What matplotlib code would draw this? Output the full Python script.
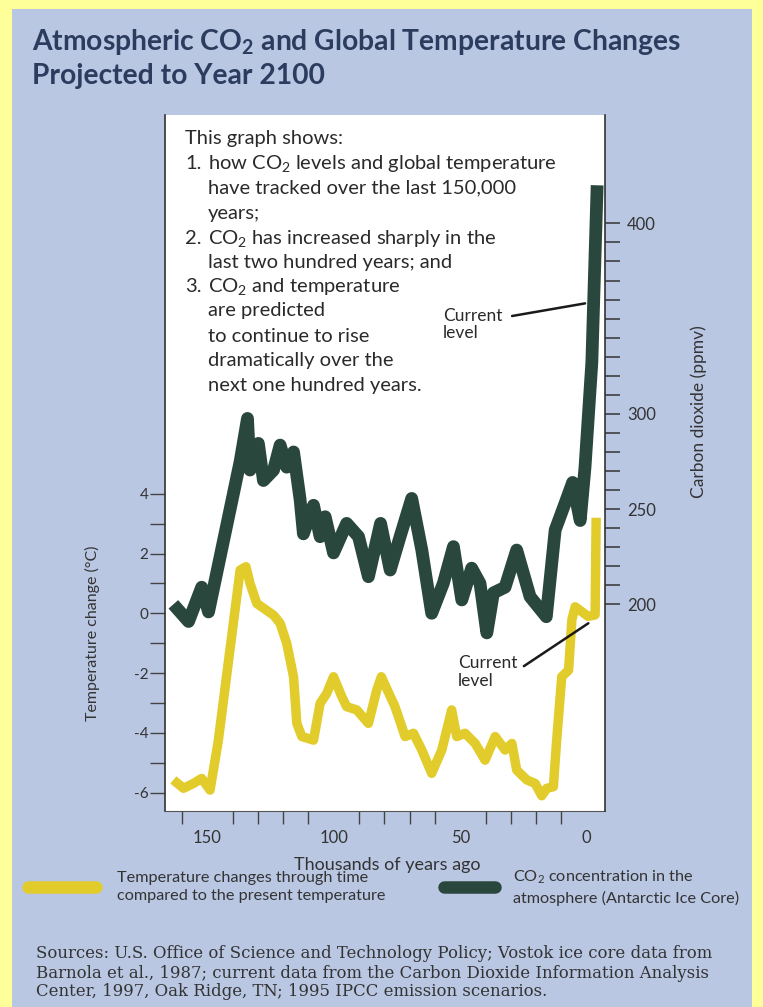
import numpy as np
import matplotlib.pyplot as plt
from matplotlib.patches import Rectangle
from matplotlib.lines import Line2D

# thousands of years ago / temperature change (deg C)
temp_kyr = [163.4, 159.4, 155.5, 152.2, 148.9, 145.6, 137.0, 134.7, 133.1, 130.4,
            123.8, 121.2, 118.6, 115.9, 114.6, 112.6, 108.0, 105.4, 102.8, 100.1,
            96.8, 94.9, 90.9, 86.3, 83.0, 81.2, 75.8, 71.8, 68.5, 65.2,
            61.3, 57.3, 53.4, 51.4, 48.1, 44.1, 40.2, 36.2, 32.3, 29.6,
            27.7, 23.7, 20.4, 17.8, 15.8, 13.2, 11.9, 9.9, 7.2, 5.9,
            4.6, 2.0, -0.5, -3.3, -3.7]
temp_val = [-5.57, -5.85, -5.69, -5.52, -5.91, -4.24, 1.45, 1.56, 1.0, 0.33,
            -0.06, -0.33, -1.0, -2.12, -3.68, -4.12, -4.24, -3.01, -2.68, -2.12,
            -2.79, -3.12, -3.23, -3.68, -2.56, -2.12, -3.12, -4.12, -4.01, -4.57,
            -5.35, -4.57, -3.23, -4.12, -4.01, -4.35, -4.91, -4.12, -4.57, -4.35,
            -5.24, -5.57, -5.69, -6.1, -5.85, -5.80, -4.24, -2.12, -1.90, -0.22,
            0.22, 0.06, -0.1, -0.05, 3.2]

# thousands of years ago / CO2 (ppmv)
co2_kyr = [163.4, 157.4, 152.2, 149.5, 137.0, 134.1, 133.1, 129.8, 127.8, 123.8,
           121.2, 118.6, 115.9, 113.3, 112.0, 108.0, 105.4, 103.4, 100.1, 94.9,
           90.2, 86.3, 81.5, 77.7, 73.8, 69.2, 65.2, 61.3, 56.7, 52.7,
           49.4, 45.5, 42.2, 39.5, 36.9, 32.3, 27.7, 22.4, 16.0, 12.5,
           8.6, 5.6, 2.6, 0.7, -2.0, -4.1]
co2_val = [200, 191, 209, 196, 275, 297.6, 270.5, 284.5, 265, 270.5,
           283.6, 272, 280, 255, 237, 252, 235.5, 246, 227, 242.5,
           235.5, 214.5, 242.5, 218, 235.5, 255.6, 228.5, 195.3, 211, 230.3,
           202.3, 219, 211, 185, 206, 209, 228.5, 204, 193.5, 239,
           253, 264, 244, 272, 327, 420]

x_labels = ['150', '100', '50', '0']
x_label_pos = [150, 100, 50, 0]
x_minor = [160, 140, 130, 120, 110, 90, 80, 70, 60, 50, 40, 30, 20, 10, 0]
t_ticks = list(range(-6, 5))
t_labels = ['-6', '', '-4', '', '-2', '', '0', '', '2', '', '4']
c_ticks = list(range(200, 410, 10))
c_labels = [str(v) if v in (200, 250, 300, 400) else '' for v in c_ticks]

box_lines = ["This graph shows:",
             "how CO$_2$ levels and global temperature",
             "have tracked over the last 150,000",
             "years;",
             "CO$_2$ has increased sharply in the",
             "last two hundred years; and",
             "CO$_2$ and temperature",
             "are predicted",
             "to continue to rise",
             "dramatically over the",
             "next one hundred years."]
box_nums = {1: "1.", 4: "2.", 6: "3."}

sources = ["Sources: U.S. Office of Science and Technology Policy; Vostok ice core data from",
           "Barnola et al., 1987; current data from the Carbon Dioxide Information Analysis",
           "Center, 1997, Oak Ridge, TN; 1995 IPCC emission scenarios."]

YELLOW = '#E2CC2C'
GREEN = '#2A473D'
BLUE_BG = '#B9C7E3'
BORDER = '#FFFF99'
TITLE_C = '#2C3C5E'

plt.rcParams['font.family'] = ['Lato', 'DejaVu Sans']
plt.rcParams['mathtext.fontset'] = 'custom'
plt.rcParams['mathtext.rm'] = 'Lato'
plt.rcParams['mathtext.it'] = 'Lato:italic'
plt.rcParams['mathtext.bf'] = 'Lato:bold'

W, H = 763, 1007
def fx(p):
    return p / W
def fy(p):
    return 1 - p / H

fig = plt.figure(figsize=(W / 100, H / 100), dpi=100)
fig.patch.set_facecolor(BORDER)
fig.patches.append(Rectangle((fx(12), 0), fx(752) - fx(12), fy(9), transform=fig.transFigure,
                             facecolor=BLUE_BG, edgecolor='none', zorder=-10))

fig.text(fx(32), fy(42), r"Atmospheric CO$_\mathbf{2}$ and Global Temperature Changes",
         fontsize=20.3, fontweight='bold', color=TITLE_C, va='center')
fig.text(fx(32), fy(76), "Projected to Year 2100",
         fontsize=20.3, fontweight='bold', color=TITLE_C, va='center')

ax = fig.add_axes([fx(165), fy(811), fx(605) - fx(165), fy(115) - fy(811)])
ax.set_facecolor('white')
ax.set_xlim(166.7, -7.2)
ax.set_ylim(-6.61, 16.67)
ax2 = ax.twinx()
ax2.set_ylim(91.5, 456.9)

ax.plot(temp_kyr, temp_val, color=YELLOW, lw=6.8, solid_joinstyle='round', solid_capstyle='butt')
ax2.plot(co2_kyr, co2_val, color=GREEN, lw=9.2, solid_joinstyle='round', solid_capstyle='butt')

for a in (ax, ax2):
    a.spines['top'].set_visible(False)
ax.spines['right'].set_visible(False)
ax2.spines['left'].set_visible(False)
ax2.spines['bottom'].set_visible(False)
ax.spines['left'].set_color('#333333')
ax.spines['left'].set_linewidth(1.2)
ax.spines['bottom'].set_color('#555555')
ax.spines['bottom'].set_linewidth(0.8)
ax2.spines['right'].set_color('#333333')
ax2.spines['right'].set_linewidth(1.2)

ax.set_yticks(t_ticks)
ax.set_yticklabels(t_labels)
ax.tick_params(axis='y', length=11, width=1, color='#444444', labelsize=11, pad=1, labelcolor='#333333')
ax.set_xticks(x_label_pos)
ax.set_xticklabels(x_labels)
ax.set_xticks(x_minor, minor=True)
ax.tick_params(axis='x', which='major', length=0, pad=14, labelsize=12, labelcolor='#333333')
ax.tick_params(axis='x', which='minor', length=9, width=1, color='#444444')
ax2.set_yticks(c_ticks)
ax2.set_yticklabels(c_labels)
ax2.tick_params(axis='y', length=11, width=1.1, color='#333333', labelsize=12, pad=5, labelcolor='#333333')

fig.text(fx(92), fy(633), "Temperature change (°C)", rotation=90, fontsize=11.5,
         color='#333333', ha='center', va='center')
fig.text(fx(699), fy(412), "Carbon dioxide (ppmv)", rotation=90, fontsize=12.5,
         color='#333333', ha='center', va='center')
fig.text(fx(387), fy(865), "Thousands of years ago", fontsize=13, color='#333333',
         ha='center', va='center')

# explanatory text inside the plot
ys = [138.3, 163.3, 188.3, 213.3, 238.3, 262.7, 286.7, 310.7, 336, 360.7, 385.7]
for i, line in enumerate(box_lines):
    x0 = 185 if i == 0 else 208
    fig.text(fx(x0), fy(ys[i]), line, fontsize=14.5, color='#2a2a2a', va='center')
    if i in box_nums:
        fig.text(fx(185), fy(ys[i]), box_nums[i], fontsize=14.5, color='#2a2a2a', va='center')

ax2.annotate("Current\nlevel", xy=(0.67, 358), xytext=(56.8, 347.0), textcoords='data',
             fontsize=12.5, color='#2a2a2a', va='center', ha='left', linespacing=1.1,
             arrowprops=dict(arrowstyle='-', color='#1a1a1a', lw=1.8, relpos=(1.0, 0.7),
                             shrinkA=5, shrinkB=0))
ax.annotate("Current\nlevel", xy=(-0.63, -0.33), xytext=(50.8, -1.96), textcoords='data',
            fontsize=12.5, color='#2a2a2a', va='center', ha='left', linespacing=1.1,
            arrowprops=dict(arrowstyle='-', color='#1a1a1a', lw=1.8, relpos=(1.0, 0.55),
                            shrinkA=3, shrinkB=0))

# legend
h1 = Line2D([], [], color=YELLOW, lw=9, solid_capstyle='round')
h2 = Line2D([], [], color=GREEN, lw=9, solid_capstyle='round')
fs = 11.7
fpx = fs * 100 / 72
leg1 = fig.legend([h1], ["Temperature changes through time\ncompared to the present temperature"],
                  loc='center left', bbox_to_anchor=(fx(28), fy(887)), frameon=False,
                  fontsize=fs, borderpad=0, borderaxespad=0, handlelength=68 / fpx,
                  handletextpad=21 / fpx)
leg2 = fig.legend([h2], ["CO$_2$ concentration in the\natmosphere (Antarctic Ice Core)"],
                  loc='center left', bbox_to_anchor=(fx(444), fy(887)), frameon=False,
                  fontsize=fs, borderpad=0, borderaxespad=0, handlelength=51 / fpx,
                  handletextpad=18 / fpx)
for lg in (leg1, leg2):
    for t in lg.get_texts():
        t.set_linespacing(1.4)
        t.set_color('#333333')

for i, s in enumerate(sources):
    fig.text(fx(36), fy([954, 973, 991][i]), s, fontsize=11.9, family='DejaVu Serif',
             color='#333333', va='center')

fig.savefig('out.png', dpi=100, facecolor=fig.get_facecolor())
